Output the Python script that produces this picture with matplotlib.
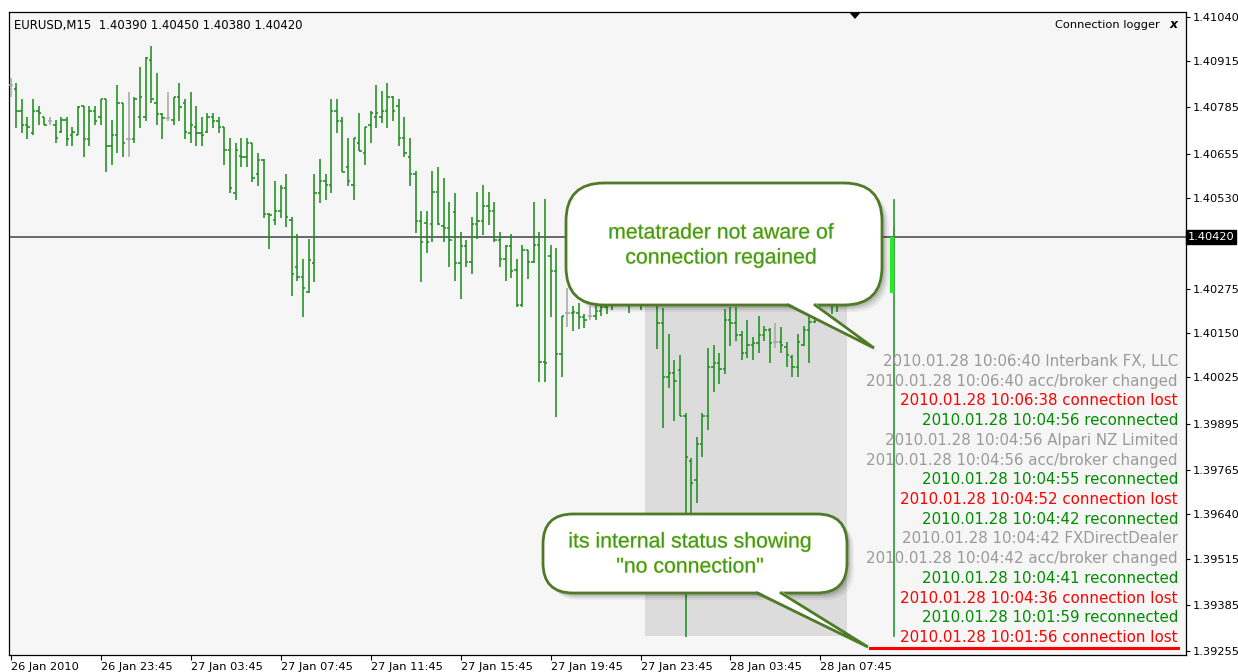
import numpy as np
import matplotlib.pyplot as plt
import matplotlib.patheffects as pe
from matplotlib.collections import LineCollection
from matplotlib.patches import FancyBboxPatch, Polygon, Rectangle
from matplotlib.transforms import blended_transform_factory

NA = np.nan  # no bar received (connection lost)

# ── Data: EURUSD M15 bars (open, high, low, close) ────────────────
opens = [
    1.40848, 1.40837, 1.40775, 1.40736, 1.40713, 1.40775, 1.40758, 1.40747, 1.40736, 1.40716,
    1.40750, 1.40707, 1.40707, 1.40789, 1.40696, 1.40775, 1.40758, 1.40809, 1.40676, 1.40707,
    1.40798, 1.40696, 1.40696, 1.40758, 1.40758, 1.40919, 1.40798, 1.40766, 1.40755, 1.40750,
    1.40814, 1.40798, 1.40713, 1.40730, 1.40713, 1.40716, 1.40758, 1.40747, 1.40730, 1.40665,
    1.40544, 1.40648, 1.40645, 1.40685, 1.40598, 1.40637, 1.40485, 1.40468, 1.40493, 1.40558,
    1.40468, 1.40336, 1.40308, 1.40265, 1.40347, 1.40544, 1.40578, 1.40567, 1.40775, 1.40747,
    1.40617, 1.40567, 1.40685, 1.40657, 1.40736, 1.40758, 1.40758, 1.40775, 1.40814, 1.40789,
    1.40699, 1.40645, 1.40598, 1.40465, 1.40460, 1.40457, 1.40547, 1.40452, 1.40446, 1.40491,
    1.40347, 1.40395, 1.40350, 1.40457, 1.40465, 1.40507, 1.40493, 1.40412, 1.40358, 1.40395,
    1.40327, 1.40229, 1.40384, 1.40350, 1.40398, 1.40068, 1.40367, 1.40325, 1.40091, 1.40206,
    1.40206, 1.40206, 1.40195, 1.40198, 1.40198, 1.40212, 1.40223, 1.40240, 1.40270, 1.40310,
    1.40280, 1.40232, 1.40275, 1.40240, 1.40285, 1.40240, 1.40178, 1.40026, 1.40037, 1.40046,
    1.39917, 1.39790, 1.39736, 1.39838, 1.39917, 1.40054, 1.40066, 1.40049, 1.40187, 1.40178,
    1.40144, 1.40094, 1.40116, 1.40122, 1.40144, 1.40158, 1.40125, 1.40125, 1.40110, 1.40083,
    1.40054, 1.40116, 1.40158, 1.40181, 1.40220, 1.40250, 1.40270, 1.40230, 1.40280, 1.40310,
    1.40300, 1.40320, 1.40340, 1.40310, 1.40330, NA, NA, 1.40390,
]
highs = [
    1.40868, 1.40854, 1.40809, 1.40758, 1.40809, 1.40789, 1.40758, 1.40758, 1.40750, 1.40758,
    1.40758, 1.40730, 1.40789, 1.40789, 1.40789, 1.40789, 1.40809, 1.40809, 1.40750, 1.40848,
    1.40798, 1.40828, 1.40814, 1.40899, 1.40927, 1.40958, 1.40882, 1.40769, 1.40828, 1.40814,
    1.40854, 1.40809, 1.40828, 1.40789, 1.40758, 1.40769, 1.40769, 1.40758, 1.40730, 1.40699,
    1.40685, 1.40699, 1.40699, 1.40685, 1.40657, 1.40640, 1.40488, 1.40578, 1.40567, 1.40598,
    1.40477, 1.40429, 1.40358, 1.40415, 1.40598, 1.40640, 1.40598, 1.40809, 1.40809, 1.40758,
    1.40699, 1.40699, 1.40769, 1.40730, 1.40775, 1.40848, 1.40831, 1.40854, 1.40817, 1.40809,
    1.40758, 1.40699, 1.40606, 1.40493, 1.40493, 1.40606, 1.40617, 1.40586, 1.40519, 1.40544,
    1.40435, 1.40412, 1.40477, 1.40547, 1.40567, 1.40547, 1.40519, 1.40435, 1.40398, 1.40429,
    1.40358, 1.40398, 1.40384, 1.40519, 1.40435, 1.40527, 1.40398, 1.40390, 1.40198, 1.40277,
    1.40226, 1.40234, 1.40203, 1.40226, 1.40234, 1.40231, 1.40243, 1.40300, 1.40330, 1.40345,
    1.40310, 1.40290, 1.40300, 1.40310, 1.40320, 1.40265, 1.40220, 1.40147, 1.40074, 1.40088,
    1.39925, 1.39798, 1.39857, 1.39925, 1.40108, 1.40116, 1.40094, 1.40218, 1.40223, 1.40223,
    1.40156, 1.40187, 1.40139, 1.40198, 1.40170, 1.40164, 1.40178, 1.40167, 1.40125, 1.40088,
    1.40147, 1.40170, 1.40201, 1.40240, 1.40270, 1.40290, 1.40290, 1.40300, 1.40330, 1.40350,
    1.40340, 1.40360, 1.40370, 1.40340, 1.40360, NA, NA, 1.40450,
]
lows = [
    1.40814, 1.40727, 1.40713, 1.40696, 1.40707, 1.40736, 1.40736, 1.40736, 1.40685, 1.40713,
    1.40676, 1.40676, 1.40707, 1.40645, 1.40676, 1.40736, 1.40736, 1.40603, 1.40623, 1.40657,
    1.40645, 1.40645, 1.40685, 1.40727, 1.40747, 1.40798, 1.40736, 1.40696, 1.40747, 1.40736,
    1.40747, 1.40696, 1.40685, 1.40676, 1.40676, 1.40713, 1.40727, 1.40713, 1.40623, 1.40544,
    1.40524, 1.40617, 1.40617, 1.40575, 1.40564, 1.40474, 1.40387, 1.40454, 1.40474, 1.40449,
    1.40254, 1.40296, 1.40195, 1.40263, 1.40294, 1.40516, 1.40524, 1.40544, 1.40713, 1.40603,
    1.40564, 1.40524, 1.40662, 1.40623, 1.40685, 1.40727, 1.40741, 1.40727, 1.40747, 1.40676,
    1.40645, 1.40564, 1.40432, 1.40294, 1.40375, 1.40406, 1.40455, 1.40406, 1.40336, 1.40296,
    1.40246, 1.40336, 1.40316, 1.40415, 1.40426, 1.40454, 1.40406, 1.40336, 1.40296, 1.40305,
    1.40223, 1.40223, 1.40302, 1.40347, 1.40012, 1.40012, 1.40195, 1.39914, 1.40026, 1.40167,
    1.40156, 1.40161, 1.40164, 1.40187, 1.40187, 1.40198, 1.40203, 1.40215, 1.40250, 1.40262,
    1.40206, 1.40228, 1.40215, 1.40235, 1.40250, 1.40105, 1.39883, 1.39995, 1.39902, 1.39917,
    1.39294, 1.39638, 1.39672, 1.39801, 1.39877, 1.39984, 1.40006, 1.40035, 1.40113, 1.40127,
    1.40074, 1.40080, 1.40074, 1.40094, 1.40127, 1.40066, 1.40108, 1.40094, 1.40054, 1.40026,
    1.40026, 1.40113, 1.40066, 1.40178, 1.40192, 1.40240, 1.40203, 1.40210, 1.40260, 1.40280,
    1.40270, 1.40290, 1.40300, 1.40280, 1.40290, NA, NA, 1.40380,
]
closes = [
    1.40848, 1.40775, 1.40736, 1.40730, 1.40775, 1.40769, 1.40736, 1.40747, 1.40699, 1.40750,
    1.40696, 1.40716, 1.40786, 1.40696, 1.40775, 1.40747, 1.40809, 1.40676, 1.40707, 1.40798,
    1.40685, 1.40696, 1.40809, 1.40814, 1.40924, 1.40809, 1.40766, 1.40755, 1.40755, 1.40814,
    1.40786, 1.40716, 1.40736, 1.40713, 1.40707, 1.40758, 1.40747, 1.40730, 1.40665, 1.40558,
    1.40665, 1.40645, 1.40685, 1.40586, 1.40637, 1.40485, 1.40482, 1.40493, 1.40558, 1.40477,
    1.40316, 1.40308, 1.40277, 1.40356, 1.40544, 1.40578, 1.40567, 1.40775, 1.40747, 1.40603,
    1.40578, 1.40699, 1.40662, 1.40730, 1.40769, 1.40769, 1.40775, 1.40814, 1.40775, 1.40699,
    1.40657, 1.40598, 1.40465, 1.40406, 1.40406, 1.40547, 1.40457, 1.40446, 1.40412, 1.40347,
    1.40395, 1.40350, 1.40457, 1.40465, 1.40507, 1.40493, 1.40412, 1.40358, 1.40395, 1.40325,
    1.40229, 1.40384, 1.40350, 1.40398, 1.40068, 1.40065, 1.40325, 1.40091, 1.40198, 1.40206,
    1.40209, 1.40195, 1.40187, 1.40198, 1.40212, 1.40223, 1.40229, 1.40270, 1.40310, 1.40280,
    1.40232, 1.40275, 1.40240, 1.40285, 1.40265, 1.40178, 1.40026, 1.40037, 1.40015, 1.39917,
    1.39801, 1.39728, 1.39838, 1.39917, 1.40054, 1.40066, 1.40049, 1.40187, 1.40178, 1.40144,
    1.40094, 1.40116, 1.40122, 1.40144, 1.40158, 1.40122, 1.40125, 1.40116, 1.40088, 1.40054,
    1.40125, 1.40158, 1.40181, 1.40220, 1.40250, 1.40270, 1.40230, 1.40280, 1.40310, 1.40300,
    1.40320, 1.40340, 1.40310, 1.40330, 1.40300, NA, NA, 1.40420,
]

x_tick_bars = [0, 16, 32, 48, 64, 80, 96, 112, 128, 144]
x_tick_labels = ['26 Jan 2010', '26 Jan 23:45', '27 Jan 03:45', '27 Jan 07:45', '27 Jan 11:45',
                 '27 Jan 15:45', '27 Jan 19:45', '27 Jan 23:45', '28 Jan 03:45', '28 Jan 07:45']
y_ticks = [1.41040, 1.40915, 1.40785, 1.40655, 1.40530, 1.40275, 1.40150,
           1.40025, 1.39895, 1.39765, 1.39640, 1.39515, 1.39385, 1.39255]
current_price = 1.40420

# shaded period (bar units) and the connection-logger drawings
shade_bars = (112.8, 148.7)
shade_prices = (1.39297, 1.40420)
logger_bar = 157
logger_line = (1.39298, 1.40524)
logger_mark = (1.40263, 1.40420)
lost_line_price = 1.39263
lost_line_bars = (152.8, 207.6)

log_lines = [
    ('2010.01.28 10:06:40 Interbank FX, LLC', 'info'),
    ('2010.01.28 10:06:40 acc/broker changed', 'info'),
    ('2010.01.28 10:06:38 connection lost', 'lost'),
    ('2010.01.28 10:04:56 reconnected', 'ok'),
    ('2010.01.28 10:04:56 Alpari NZ Limited', 'info'),
    ('2010.01.28 10:04:56 acc/broker changed', 'info'),
    ('2010.01.28 10:04:55 reconnected', 'ok'),
    ('2010.01.28 10:04:52 connection lost', 'lost'),
    ('2010.01.28 10:04:42 reconnected', 'ok'),
    ('2010.01.28 10:04:42 FXDirectDealer', 'info'),
    ('2010.01.28 10:04:42 acc/broker changed', 'info'),
    ('2010.01.28 10:04:41 reconnected', 'ok'),
    ('2010.01.28 10:04:36 connection lost', 'lost'),
    ('2010.01.28 10:01:59 reconnected', 'ok'),
    ('2010.01.28 10:01:56 connection lost', 'lost'),
]
LOG_COL = {'info': '#9a9a9a', 'lost': '#ff0000', 'ok': '#008c00'}

BAR = '#1f8f1f'
DOJI = '#a8a8a8'
EDGE = '#4f7a26'
TXT = '#3a9a2a'

# ── Figure ──────────────────────────────────────────────────────
W, H = 1238, 672
fig = plt.figure(figsize=(W / 100, H / 100), dpi=100, facecolor='white')
ax = fig.add_axes([9 / W, 17 / H, 1177 / W, 643 / H], facecolor='#f6f6f6')

o, h, l, c = map(np.array, (opens, highs, lows, closes))
tk = 0.42
segs, cols = [], []
for i in range(len(o)):
    if np.isnan(h[i]):
        continue
    col = DOJI if o[i] == c[i] else BAR
    segs += [[(i, l[i]), (i, h[i])], [(i - tk, o[i]), (i, o[i])], [(i, c[i]), (i + tk, c[i])]]
    cols += [col] * 3
ax.add_collection(LineCollection(segs, colors=cols, linewidths=1.15, zorder=3))

ax.add_patch(Rectangle((shade_bars[0], shade_prices[0]), shade_bars[1] - shade_bars[0],
                       shade_prices[1] - shade_prices[0], fc='#dcdcdc', ec='none', zorder=1))
ax.axhline(current_price, color='#505050', lw=1.2, zorder=2)

# logger drawings
ax.plot([logger_bar, logger_bar], logger_line, color='#3aa03a', lw=1.3, zorder=4)
ax.plot([logger_bar - 0.2, logger_bar - 0.2], logger_mark, color='#22ee22', lw=3, zorder=4,
        solid_capstyle='butt')
ax.plot(lost_line_bars, [lost_line_price] * 2, color='#ff0000', lw=2.2, zorder=4)

ax.set_xlim(-0.27, 208.98)
ax.set_ylim(1.392437, 1.410535)

ax.set_xticks(x_tick_bars)
ax.set_xticklabels(x_tick_labels)
for t in ax.get_xticklabels():
    t.set_ha('left')
ax.tick_params(axis='x', direction='out', length=3.5, width=0.8, pad=1.5, labelsize=8.2)

ax.yaxis.tick_right()
ax.set_yticks(y_ticks)
ax.set_yticklabels([f'{v:.5f}' for v in y_ticks])
ax.tick_params(axis='y', direction='out', length=3, width=0.8, pad=1.5, labelsize=8.2)
for s in ax.spines.values():
    s.set_color('black')
    s.set_linewidth(0.9)

# current price box on the price scale
ax.text(1.0015, current_price, f'{current_price:.5f}',
        transform=blended_transform_factory(ax.transAxes, ax.transData),
        ha='left', va='center', fontsize=8.2, color='white',
        bbox=dict(boxstyle='square,pad=0.15', fc='black', ec='black'), zorder=6, clip_on=False)

# ── Overlay in pixel units for notes and callouts ───────────────
ov = fig.add_axes([0, 0, 1, 1], facecolor='none', zorder=5)
ov.set_xlim(0, W)
ov.set_ylim(H, 0)
ov.axis('off')

ov.text(14, 25, 'EURUSD,M15  1.40390 1.40450 1.40380 1.40420', ha='left', va='center',
        fontsize=8.4, color='black')
ov.text(1160, 25, 'Connection logger', ha='right', va='center', fontsize=8.2, color='black')
ov.text(1174, 25, 'x', ha='center', va='center', fontsize=9, color='black',
        fontweight='bold', style='italic')
ov.add_patch(Polygon([(849, 12), (861, 12), (855, 19)], closed=True, fc='black', ec='none'))

for k, (line, kind) in enumerate(log_lines):
    ov.text(1178, 366 + k * 19.71, line, ha='right', va='baseline', fontsize=10.8,
            color=LOG_COL[kind], zorder=6)


def callout(x0, y0, x1, y1, r, base, tip, lines, cx, ys):
    style = f'round,pad=0,rounding_size={r}'
    (bx0, bx1), (tx, ty) = base, tip
    for off, a in ((7, 0.05), (5, 0.08), (3, 0.12)):
        ov.add_patch(FancyBboxPatch((x0 + off, y0 + off), x1 - x0, y1 - y0, boxstyle=style,
                                    fc='black', ec='none', alpha=a, zorder=2))
        ov.add_patch(Polygon([(bx0 + off, y1 + off - 3), (bx1 + off, y1 + off - 3),
                              (tx + off - 2, ty + off - 2)],
                             closed=True, fc='black', ec='none', alpha=a, zorder=2))
    ov.add_patch(FancyBboxPatch((x0, y0), x1 - x0, y1 - y0, boxstyle=style,
                                fc='white', ec=EDGE, lw=2.0, zorder=3))
    ov.add_patch(Polygon([(bx0, y1 - 2), (bx1, y1 - 2), (tx, ty)], closed=True,
                         fc='white', ec='none', zorder=4))
    ov.plot([bx0, tx, bx1], [y1, ty, y1], color=EDGE, lw=2.0, zorder=4, solid_joinstyle='miter')
    for s, y in zip(lines, ys):
        ov.text(cx, y, s, ha='center', va='center', fontsize=15.3, family='Liberation Sans',
                color=TXT, zorder=5,
                path_effects=[pe.withStroke(linewidth=0.8, foreground='#e4e48a')])


callout(566, 183, 882, 305, 38, (788, 815), (874, 348),
        ['metatrader not aware of', 'connection regained'], 721, [233, 258])
callout(543, 514, 847, 593, 30, (757, 781), (868, 647),
        ['its internal status showing', '"no connection"'], 690, [542, 567])

fig.savefig('out.png', dpi=100, facecolor='white')
